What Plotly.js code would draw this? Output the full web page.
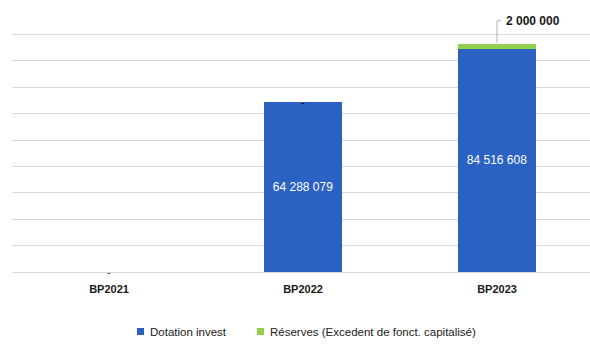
<!DOCTYPE html>
<html><head><meta charset="utf-8">
<script src="https://cdn.plot.ly/plotly-3.0.1.min.js"></script>
<style>html,body{margin:0;padding:0;overflow:hidden;background:#fff}</style>
</head><body>
<div id="chart"></div>
<script>
const categories = ["BP2021", "BP2022", "BP2023"];
const dotation = [0, 64288079, 84516608];
const reserves = [0, 0, 2000000];
const seriesNames = ["Dotation invest", "Réserves (Excedent de fonct. capitalisé)"];
const seriesColors = ["#2A61C2", "#92D050"];

function fmt(v) {
  if (v === 0) return "-";
  return String(Math.round(v)).replace(/\B(?=(\d{3})+(?!\d))/g, " ");
}

const font = "'Liberation Sans', Arial, sans-serif";

const traces = [
  {
    type: "bar", name: seriesNames[0], x: categories, y: dotation,
    marker: {color: seriesColors[0]},
    text: dotation.map(v => v === 0 ? "" : fmt(v)),
    textposition: "inside", insidetextanchor: "middle",
    textfont: {color: "#ffffff", size: 12, family: font},
    hoverinfo: "none"
  },
  {
    type: "bar", name: seriesNames[1], x: categories, y: reserves,
    marker: {color: seriesColors[1]},
    textposition: "none",
    hoverinfo: "none"
  }
];

const annotations = [];
const shapes = [];
categories.forEach((c, i) => {
  if (dotation[i] === 0) {
    annotations.push({x: c, y: 0, text: "-", showarrow: false, yanchor: "middle",
      font: {size: 11, color: "#404040", family: font}});
  }
  const top = dotation[i] + reserves[i];
  if (reserves[i] === 0 && dotation[i] !== 0) {
    annotations.push({x: c, y: top, text: "-", showarrow: false, yanchor: "middle",
      font: {size: 11, color: "#000000", family: font}});
  }
  if (reserves[i] !== 0) {
    shapes.push({type: "line", xref: "x", yref: "y", xsizemode: "pixel", ysizemode: "pixel",
      xanchor: c, yanchor: top, x0: 0, x1: 0, y0: 1, y1: 23,
      line: {color: "#A6B3C6", width: 1}});
    shapes.push({type: "line", xref: "x", yref: "y", xsizemode: "pixel", ysizemode: "pixel",
      xanchor: c, yanchor: top, x0: 0, x1: 4, y0: 23, y1: 23,
      line: {color: "#A6B3C6", width: 1}});
    annotations.push({x: c, y: top, xshift: 7, yshift: 23, text: "<b>" + fmt(reserves[i]) + "</b>",
      showarrow: false, xanchor: "left", yanchor: "middle",
      font: {size: 12, color: "#1a1a1a", family: font}});
  }
});

// custom legend (small squares close to text, as in the reference)
const legendPos = [{sq: 0.2148, tx: 0.2337}, {sq: 0.421, tx: 0.4399}];
seriesNames.forEach((n, i) => {
  shapes.push({type: "rect", xref: "paper", yref: "paper",
    x0: legendPos[i].sq, x1: legendPos[i].sq + 0.012, y0: -0.2121, y1: -0.2386,
    fillcolor: seriesColors[i], line: {width: 0}});
  annotations.push({xref: "paper", yref: "paper", x: legendPos[i].tx, y: -0.2254,
    text: n, showarrow: false, xanchor: "left", yanchor: "middle",
    font: {size: 11.5, color: "#1a1a1a", family: font}});
});

const layout = {
  width: 596, height: 360,
  margin: {l: 12, r: 2, t: 8, b: 88},
  barmode: "stack", bargap: 0.6,
  paper_bgcolor: "#ffffff", plot_bgcolor: "#ffffff",
  font: {family: font, color: "#262626"},
  xaxis: {
    type: "category", showgrid: false, zeroline: false, showline: false,
    ticks: "", ticklabelstandoff: 9,
    tickfont: {size: 11, color: "#1a1a1a", family: font, weight: "bold"}
  },
  yaxis: {
    range: [0, 100000000], dtick: 10000000, showgrid: true, gridcolor: "#D9D9D9",
    gridwidth: 1, zeroline: true, zerolinecolor: "#D9D9D9", zerolinewidth: 1,
    showticklabels: false, ticks: "", fixedrange: true
  },
  showlegend: false,
  annotations: annotations,
  shapes: shapes
};

Plotly.newPlot("chart", traces, layout, {displayModeBar: false, staticPlot: true});
</script>
</body></html>
